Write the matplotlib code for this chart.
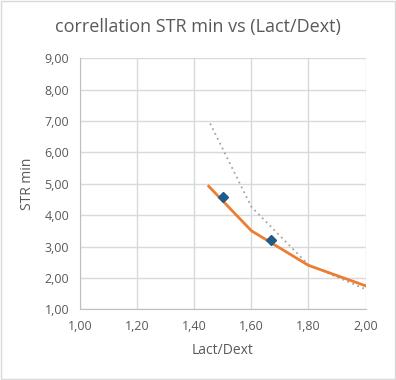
import matplotlib
matplotlib.use("Agg")
import matplotlib.pyplot as plt
from matplotlib.ticker import FuncFormatter

# data
line_x = [1.45, 1.60, 1.80, 2.00]
line_y = [4.92, 3.50, 2.40, 1.75]
dot_x = [1.455, 1.60, 1.80, 2.00]
dot_y = [6.92, 4.26, 2.42, 1.64]
pts_x = [1.50, 1.67]
pts_y = [4.57, 3.22]

x_ticks = [1.0, 1.2, 1.4, 1.6, 1.8, 2.0]
y_ticks = [1, 2, 3, 4, 5, 6, 7, 8, 9]

plt.rcParams['font.family'] = ['Open Sans', 'DejaVu Sans']
txt = "#595959"
grid = "#d9d9d9"

fig = plt.figure(figsize=(3.96, 3.80), dpi=100)
fig.patches.append(plt.Rectangle((0.002, 0.002), 0.996, 0.996, transform=fig.transFigure,
                                 fill=False, edgecolor="#d9d9d9", lw=1))
ax = fig.add_axes([0.203, 0.186, 0.720, 0.661])

ax.plot(dot_x, dot_y, linestyle=(0, (1, 2)), color="#a5a5a5", lw=1.3, zorder=2)
ax.plot(line_x, line_y, color="#ED7D31", lw=2, zorder=3)
ax.plot(pts_x, pts_y, linestyle="none", marker="D", ms=5, color="#1F5B8A", zorder=4)

ax.set_xlim(1.0, 2.0)
ax.set_ylim(1.0, 9.0)
ax.set_xticks(x_ticks)
ax.set_yticks(y_ticks)
fmt = FuncFormatter(lambda v, p: f"{v:.2f}".replace(".", ","))
ax.xaxis.set_major_formatter(fmt)
ax.yaxis.set_major_formatter(fmt)
ax.grid(color=grid, lw=1)
ax.set_axisbelow(True)
for s in ["top", "right"]:
    ax.spines[s].set_visible(False)
for s in ["left", "bottom"]:
    ax.spines[s].set_color("#bfbfbf")
ax.tick_params(length=0, labelsize=9, colors=txt, pad=8)

ax.set_xlabel("Lact/Dext", fontsize=10, color=txt, labelpad=7)
ax.set_ylabel("STR min", fontsize=10, color=txt, labelpad=7)
fig.text(0.5, 0.928, "correllation STR min vs (Lact/Dext)", ha="center", va="center",
         fontsize=13, color=txt)

fig.savefig("out.png", dpi=100)
